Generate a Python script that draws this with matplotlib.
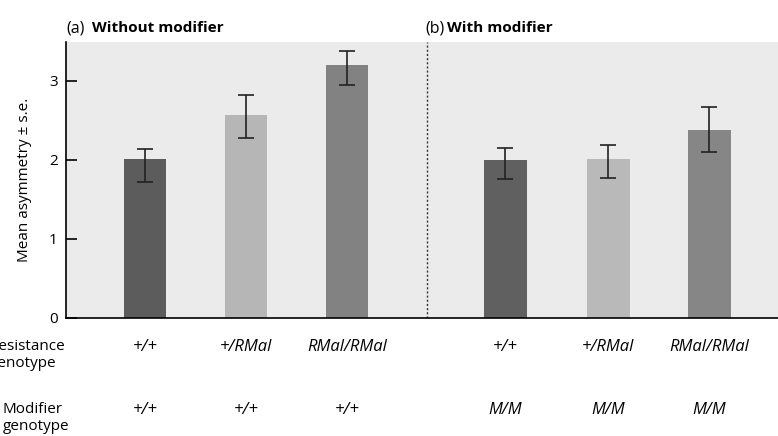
import numpy as np
import matplotlib.pyplot as plt
import matplotlib.transforms as mtransforms

# mean asymmetry and error bar ends
means = [2.01, 2.57, 3.20, 1.99, 2.01, 2.38]
err_low = [1.72, 2.28, 2.94, 1.76, 1.77, 2.10]
err_high = [2.13, 2.82, 3.38, 2.15, 2.18, 2.66]
resistance = ['+/+', '+/RMal', 'RMal/RMal', '+/+', '+/RMal', 'RMal/RMal']
modifier = ['+/+', '+/+', '+/+', 'M/M', 'M/M', 'M/M']
bar_colors = ['#5c5c5c', '#b6b6b6', '#828282', '#606060', '#b9b9b9', '#868686']
yticks = [0, 1, 2, 3]

plt.rcParams['font.family'] = ['Open Sans', 'DejaVu Sans']

fig = plt.figure(figsize=(7.78, 4.36), dpi=100)
ax = fig.add_axes([0.085, 0.271, 0.915, 0.633])
ax.set_facecolor('#ebebeb')

x = np.array([0, 1, 2, 3.57, 4.59, 5.59])
means = np.array(means)
yerr = [means - np.array(err_low), np.array(err_high) - means]
ax.bar(x, means, width=0.42, color=bar_colors, zorder=2)
ax.errorbar(x, means, yerr=yerr, fmt='none', ecolor='#222222',
            elinewidth=1.2, capsize=6, capthick=1.2, zorder=3)

ax.axvline(2.79, color='#333333', linestyle=(0, (1.5, 1.5)), linewidth=1.0)

ax.set_xlim(-0.78, 6.27)
ax.set_ylim(0, 3.49)
ax.set_yticks(yticks)
ax.set_xticks([])
ax.tick_params(axis='y', direction='in', length=8, width=1.2, labelsize=11, pad=6)
for s in ['top', 'right']:
    ax.spines[s].set_visible(False)
ax.spines['left'].set_linewidth(1.2)
ax.spines['bottom'].set_linewidth(1.2)
ax.set_ylabel('Mean asymmetry ± s.e.', fontsize=11, labelpad=12)

# panel titles
ax.text(0.0, 1.05, '(a)', transform=ax.transAxes, fontsize=11.5, va='center')
ax.text(0.036, 1.05, 'Without modifier', transform=ax.transAxes, fontsize=11,
        fontweight='bold', va='center')
ax.text(0.505, 1.05, '(b)', transform=ax.transAxes, fontsize=11.5, va='center')
ax.text(0.535, 1.05, 'With modifier', transform=ax.transAxes, fontsize=11,
        fontweight='bold', va='center')

# genotype rows under the bars
trans = mtransforms.blended_transform_factory(ax.transData, fig.transFigure)
for xi, r, m in zip(x, resistance, modifier):
    ax.text(xi, 1 - 347 / 436, r, transform=trans, ha='center', va='center',
            fontsize=12, style='italic')
    ax.text(xi, 1 - 410 / 436, m, transform=trans, ha='center', va='center',
            fontsize=12, style='italic')

fig.text(-0.013, 1 - 355 / 436, 'Resistance\ngenotype', fontsize=11,
         ha='left', va='center', linespacing=1.2)
fig.text(0.003, 1 - 418 / 436, 'Modifier\ngenotype', fontsize=11,
         ha='left', va='center', linespacing=1.2)

fig.savefig('out.png', dpi=100)
